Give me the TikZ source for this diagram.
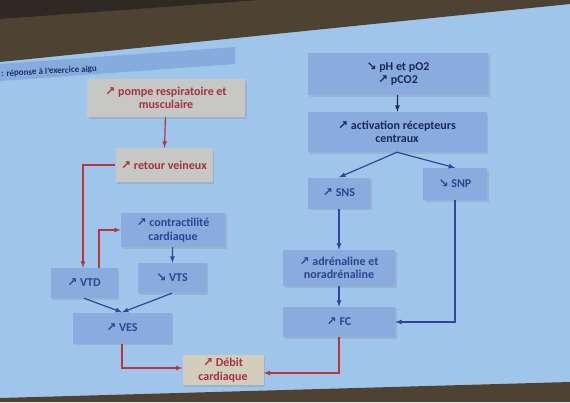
\documentclass[tikz,border=0pt]{standalone}
\usepackage{fontspec}
\setmainfont{Carlito}
\newfontfamily\symfont{DejaVu Sans}
\usetikzlibrary{positioning,arrows,shadows}
\definecolor{slide}{HTML}{A0C5EB}
\definecolor{wall}{HTML}{4E4333}
\definecolor{wallDark}{HTML}{2E2922}
\definecolor{barBlue}{HTML}{86ACDD}
\definecolor{boxBlue}{HTML}{8AABDE}
\definecolor{boxGrey}{HTML}{C7C8C6}
\definecolor{boxBeige}{HTML}{D3CDBE}
\definecolor{txtBlue}{HTML}{2A4592}
\definecolor{txtRed}{HTML}{A3333A}
\definecolor{lineRed}{HTML}{B8363A}
\definecolor{lineBlue}{HTML}{33449A}
\newcommand{\hausse}{{\symfont\char"2197}}
\newcommand{\baisse}{{\symfont\char"2198}}

\begin{document}
\begin{tikzpicture}[x=1pt,y=-1pt]
 \tikzset{box/.style={rectangle,minimum width=#1,inner sep=2pt,align=center,
   font=\fontsize{12}{13.5}\selectfont\bfseries,
   drop shadow={opacity=0.25,shadow xshift=1.5pt,shadow yshift=-1.5pt}},
   bluebox/.style={box=#1,fill=boxBlue,text=txtBlue},
   greybox/.style={box=#1,fill=boxGrey,text=txtRed},
   redarrow/.style={-latex,color=lineRed,line width=1.2pt},
   bluearrow/.style={-latex,color=lineBlue,line width=1.2pt}}
 % background of the photo
 \useasboundingbox (0,0) rectangle (570,402);
 \fill[slide] (0,0) rectangle (570,402);
 \fill[wall] (0,0) -- (570,0) -- (570,4) -- (0,62) -- cycle;
 \fill[wallDark] (0,0) -- (260,0) -- (0,19) -- cycle;
 \fill[wall] (0,398) -- (570,382) -- (570,402) -- (0,402) -- cycle;
 \fill[barBlue] (0,64) -- (235,47) -- (235,64) -- (0,81) -- cycle;
 \node[anchor=west,rotate=3,text=txtBlue!70!black,font=\fontsize{9}{10}\selectfont\bfseries,inner sep=0pt]
   (T) at (1,74) {: réponse à l'exercice aigu};

 % left branch
 \node[greybox=158pt,minimum height=38pt] (PR) at (166,98) {\hausse{} pompe respiratoire et\\musculaire};
 \node[greybox=97pt,minimum height=34pt] (RV) at (164,165) {\hausse{} retour veineux};
 \node[bluebox=104pt,minimum height=34pt] (CC) at (173,230) {\hausse{} contractilité\\cardiaque};
 \node[bluebox=67pt,minimum height=30pt] (VTD) at (84,283) {\hausse{} VTD};
 \node[bluebox=69pt,minimum height=30pt] (VTS) at (172,278) {\baisse{} VTS};
 \node[bluebox=99pt,minimum height=31pt] (VES) at (122,328) {\hausse{} VES};
 \node[box=81pt,minimum height=30pt,fill=boxBeige,text=txtRed] (DC) at (223,370) {\hausse{} Débit\\cardiaque};

 % right branch
 \node[bluebox=180pt,minimum height=42pt,text=txtBlue!60!black] (PH) at (398,74) {\baisse{} pH et pO2\\\hausse{} pCO2};
 \node[bluebox=179pt,minimum height=40pt,text=txtBlue!60!black] (AR) at (397,132) {\hausse{} activation récepteurs\\centraux};
 \node[bluebox=62pt,minimum height=31pt] (SNS) at (339,193) {\hausse{} SNS};
 \node[bluebox=64pt,minimum height=32pt] (SNP) at (455,184) {\baisse{} SNP};
 \node[bluebox=112pt,minimum height=36pt] (AN) at (339,268) {\hausse{} adrénaline et\\noradrénaline};
 \node[bluebox=112pt,minimum height=30pt] (FC) at (339,322) {\hausse{} FC};

 \draw[redarrow] (PR) to (RV);
 \draw[redarrow] (RV.west) -| ([xshift=-1pt]VTD.north);
 \draw[redarrow] ([xshift=15pt]VTD.north) |- (CC.west);
 \draw[bluearrow] (CC) to (VTS);
 \draw[bluearrow] (VTD.south) to (VES.north);
 \draw[bluearrow] (VTS.south) to (VES.north);
 \draw[redarrow] (VES.south) |- ([yshift=2pt]DC.west);
 \draw[redarrow] (FC.south) |- ([yshift=-3pt]DC.east);

 \draw[bluearrow,color=lineBlue!60!black] (PH) to (AR);
 \draw[bluearrow] (AR.south) to (SNS.north);
 \draw[bluearrow] (AR.south) to (SNP.north);
 \draw[bluearrow] (SNS) to (AN);
 \draw[bluearrow] (AN) to (FC);
 \draw[bluearrow] (SNP.south) |- (FC.east);
\end{tikzpicture}
\end{document}
